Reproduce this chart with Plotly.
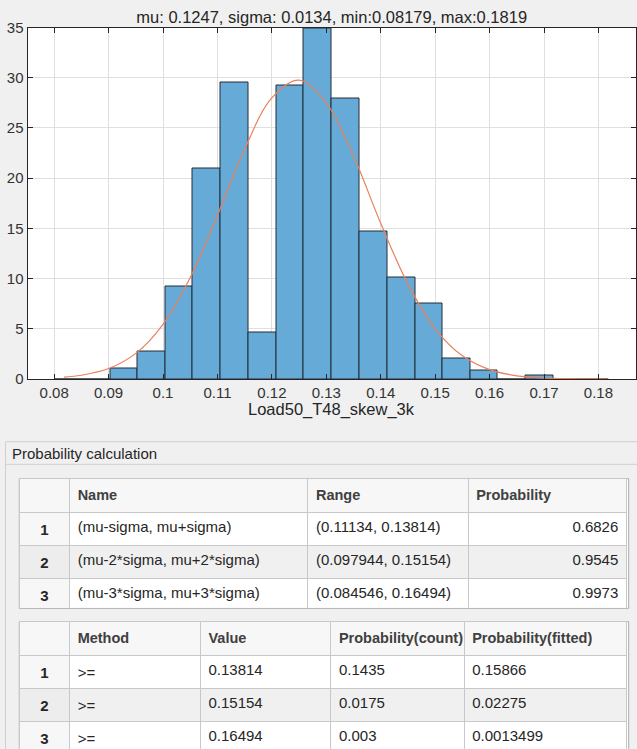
import plotly.graph_objects as go

# histogram (pdf normalised)
bin_edges = [0.0801, 0.0852, 0.0903, 0.0954, 0.1005, 0.1055, 0.1106, 0.1157,
             0.1208, 0.1259, 0.1310, 0.1361, 0.1412, 0.1463, 0.1514, 0.1564,
             0.1615, 0.1666, 0.1717, 0.1768, 0.1819]
bin_heights = [0, 0, 1.0, 2.72, 9.18, 21.0, 29.5, 4.6, 29.2, 34.9,
               27.9, 14.66, 10.08, 7.49, 2.02, 0.8, 0, 0.3, 0, 0]

# fitted normal curve
fit_x = [0.0818, 0.085, 0.09, 0.095, 0.1, 0.105, 0.11, 0.115, 0.12, 0.125,
         0.13, 0.135, 0.14, 0.145, 0.15, 0.155, 0.16, 0.165, 0.17, 0.175,
         0.18, 0.1819]
fit_y = [0.18, 0.37, 1.04, 2.55, 5.45, 10.1, 16.3, 22.9, 28.0, 29.76,
         27.5, 22.2, 15.5, 9.45, 5.0, 2.31, 0.93, 0.32, 0.1, 0.03,
         0.01, 0.0]

x_tick_vals = [0.08, 0.09, 0.1, 0.11, 0.12, 0.13, 0.14, 0.15, 0.16, 0.17, 0.18]
x_tick_text = ['0.08', '0.09', '0.1', '0.11', '0.12', '0.13', '0.14', '0.15', '0.16', '0.17', '0.18']
y_tick_vals = [0, 5, 10, 15, 20, 25, 30, 35]

title_text = 'mu: 0.1247, sigma: 0.0134, min:0.08179, max:0.1819'
x_label = 'Load50_T48_skew_3k'
panel_title = 'Probability calculation'

# table 1
row_ids = [1, 2, 3]
t1_header = ['', 'Name', 'Range', 'Probability']
t1_names = ['(mu-sigma, mu+sigma)', '(mu-2*sigma, mu+2*sigma)', '(mu-3*sigma, mu+3*sigma)']
t1_ranges = ['(0.11134, 0.13814)', '(0.097944, 0.15154)', '(0.084546, 0.16494)']
t1_probs = ['0.6826', '0.9545', '0.9973']

# table 2
t2_header = ['', 'Method', 'Value', 'Probability(count)', 'Probability(fitted)']
t2_methods = ['>=', '>=', '>=']
t2_values = ['0.13814', '0.15154', '0.16494']
t2_prob_count = ['0.1435', '0.0175', '0.003']
t2_prob_fitted = ['0.15866', '0.02275', '0.0013499']

W, H = 637, 749
FONT = 'Liberation Sans, Arial, Helvetica, sans-serif'


def px_x(x):
    return x / W


def px_y(y):
    return 1 - y / H


centers = [(a + b) / 2 for a, b in zip(bin_edges[:-1], bin_edges[1:])]
widths = [b - a for a, b in zip(bin_edges[:-1], bin_edges[1:])]

fig = go.Figure()

fig.add_trace(go.Bar(
    x=centers, y=bin_heights, width=widths,
    marker=dict(color='rgb(102,170,215)', line=dict(color='rgb(35,45,55)', width=1)),
    showlegend=False,
))
fig.add_trace(go.Scatter(
    x=fit_x, y=fit_y, mode='lines',
    line=dict(color='rgb(234,128,92)', width=1.2, shape='spline'),
    showlegend=False,
))

# tables
num_fill = ['#F7F7F7', '#EDEDED', '#F7F7F7']
body_fill = ['#FFFFFF', '#F0F0F0', '#FFFFFF']
row_text = ['<b>%d</b>' % i for i in row_ids]

fig.add_trace(go.Table(
    domain=dict(x=[px_x(19.3), px_x(627)], y=[px_y(608), px_y(478.7)]),
    columnwidth=[50.4, 238.6, 160.4, 158.3],
    header=dict(
        values=['<b>%s</b>' % h for h in t1_header],
        fill=dict(color='#F7F7F7'),
        line=dict(color='#C8C8C8', width=1),
        align='left', height=34,
        font=dict(family=FONT, size=14.5, color='#404040'),
    ),
    cells=dict(
        values=[row_text, t1_names, t1_ranges, t1_probs],
        fill=dict(color=[num_fill, body_fill, body_fill, body_fill]),
        line=dict(color='#C8C8C8', width=1),
        align=['center', 'left', 'left', 'right'], height=28,
        font=dict(family=FONT, size=15, color='#262626'),
    ),
))

fig.add_trace(go.Table(
    domain=dict(x=[px_x(19.3), px_x(627)], y=[0, px_y(621.7)]),
    columnwidth=[50.4, 131, 130.6, 133.4, 162.3],
    header=dict(
        values=['<b>%s</b>' % h for h in t2_header],
        fill=dict(color='#F7F7F7'),
        line=dict(color='#C8C8C8', width=1),
        align='left', height=34,
        font=dict(family=FONT, size=14.5, color='#404040'),
    ),
    cells=dict(
        values=[row_text, t2_methods, t2_values, t2_prob_count, t2_prob_fitted],
        fill=dict(color=[num_fill, body_fill, body_fill, body_fill, body_fill]),
        line=dict(color='#C8C8C8', width=1),
        align=['center', 'left', 'left', 'left', 'left'], height=28,
        font=dict(family=FONT, size=15, color='#262626'),
    ),
))

axis_common = dict(
    showline=True, linecolor='#262626', linewidth=1, mirror='ticks',
    ticks='inside', ticklen=5, tickcolor='#262626', tickwidth=1,
    showgrid=True, gridcolor='rgb(223,223,223)', gridwidth=1,
    zeroline=False, automargin=False,
    tickfont=dict(family=FONT, size=15, color='#333333'),
)

fig.update_layout(
    template='none',
    width=W, height=H,
    margin=dict(l=0, r=0, t=0, b=0),
    paper_bgcolor='#F0F0F0',
    plot_bgcolor='white',
    bargap=0,
    hovermode=False,
    font=dict(family=FONT, color='#262626'),
    title=dict(text=title_text, x=px_x(331.7), xanchor='center', xref='paper',
               y=px_y(17.5), yanchor='middle', yref='container',
               font=dict(family=FONT, size=16.5, color='#262626')),
    xaxis=dict(domain=[px_x(27.5), px_x(636)], range=[0.0751, 0.1869],
               tickvals=x_tick_vals, ticktext=x_tick_text, **axis_common),
    yaxis=dict(domain=[px_y(379), px_y(27.5)], range=[0, 35],
               tickvals=y_tick_vals, **axis_common),
    shapes=[
        # panel frame and its title separator
        dict(type='rect', xref='paper', yref='paper', layer='below',
             x0=px_x(5.5), x1=1.02, y0=-0.02, y1=px_y(441.7),
             line=dict(color='#CFCFCF', width=1), fillcolor='#F0F0F0'),
        dict(type='line', xref='paper', yref='paper', layer='below',
             x0=px_x(5.5), x1=1.02, y0=px_y(464.3), y1=px_y(464.3),
             line=dict(color='#CFCFCF', width=1)),
        # table backgrounds
        dict(type='rect', xref='paper', yref='paper', layer='below',
             x0=px_x(19.3), x1=px_x(628.7), y0=px_y(608.3), y1=px_y(478.7),
             line=dict(color='#ABABAB', width=1), fillcolor='white'),
        dict(type='rect', xref='paper', yref='paper', layer='below',
             x0=px_x(19.3), x1=px_x(628.7), y0=-0.02, y1=px_y(621.7),
             line=dict(color='#ABABAB', width=1), fillcolor='white'),
    ],
    annotations=[
        dict(text=x_label, xref='paper', yref='paper', x=px_x(331.7), y=px_y(409),
             xanchor='center', yanchor='middle', showarrow=False,
             font=dict(family=FONT, size=16.5, color='#262626')),
        dict(text=panel_title, xref='paper', yref='paper', x=px_x(10), y=px_y(453.5),
             xanchor='left', yanchor='middle', showarrow=False,
             font=dict(family=FONT, size=15, color='#262626')),
    ],
)

# drop the browser's default body margin so the figure sits at the window's corner
fig.write_html('out.html', config={'displayModeBar': False},
               post_script="document.body.style.margin='0';document.body.style.overflow='hidden';")
